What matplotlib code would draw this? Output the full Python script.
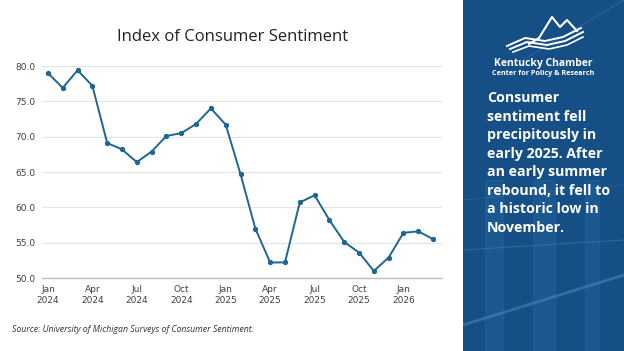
import numpy as np
import matplotlib.pyplot as plt
from matplotlib.patches import Rectangle

# monthly index, Jan 2024 .. Mar 2026
values = [79.0, 76.9, 79.4, 77.2, 69.1, 68.2, 66.4, 67.9, 70.1, 70.5, 71.8, 74.0,
          71.7, 64.7, 57.0, 52.2, 52.2, 60.7, 61.7, 58.2, 55.1, 53.6, 51.0, 52.9,
          56.4, 56.6, 55.5]
tick_pos = [0, 3, 6, 9, 12, 15, 18, 21, 24]
tick_labels = ["Jan\n2024", "Apr\n2024", "Jul\n2024", "Oct\n2024", "Jan\n2025",
               "Apr\n2025", "Jul\n2025", "Oct\n2025", "Jan\n2026"]
y_ticks = [50.0, 55.0, 60.0, 65.0, 70.0, 75.0, 80.0]

note = ("Consumer\nsentiment fell\nprecipitously in\nearly 2025. After\n"
        "an early summer\nrebound, it fell to\na historic low in\nNovember.")

W, H = 624, 351
fig = plt.figure(figsize=(W / 100, H / 100), dpi=100)
fig.patch.set_facecolor("white")

# right side panel
panel = fig.add_axes([463 / W, 0, 1 - 463 / W, 1])
panel.set_xlim(0, 161)
panel.set_ylim(351, 0)
panel.axis("off")
panel.add_patch(Rectangle((0, 0), 161, 351, color="#164f86", zorder=0))
# faint background bands / lines
for x0, w in [(22, 18), (70, 22), (122, 14)]:
    panel.add_patch(Rectangle((x0, 180), w, 171, color="#2a6aa5", alpha=0.35, zorder=1))
panel.plot([0, 161], [325, 275], color="#4f8cc4", lw=2, alpha=0.5, zorder=1)
panel.plot([0, 161], [250, 240], color="#4f8cc4", lw=0.8, alpha=0.4, zorder=1)
panel.plot([60, 161], [60, 0], color="#4f8cc4", lw=0.6, alpha=0.4, zorder=1)
panel.plot([0, 161], [200, 185], color="#4f8cc4", lw=0.6, alpha=0.3, zorder=1)

# logo
panel.plot([66, 76, 89, 97, 104, 114], [44, 38, 17, 27, 20, 31], color="white", lw=1.5,
           zorder=3)
panel.plot([44, 62, 82, 100, 118], [46, 38, 41, 37, 28], color="white", lw=1.4, zorder=3)
panel.plot([47, 64, 84, 102, 120], [49, 42, 45, 41, 32], color="white", lw=1.4, zorder=3)
panel.plot([50, 66, 86, 104, 120], [52, 46, 49, 45, 37], color="white", lw=1.2, zorder=3)
panel.text(80, 66, "Kentucky Chamber", color="white", fontsize=7.5, fontweight="bold",
           ha="center", va="baseline", family="Open Sans", zorder=4)
panel.text(80, 75, "Center for Policy & Research", color="white", fontsize=5.2,
           fontweight="bold", ha="center", va="baseline", family="Open Sans", zorder=4)

panel.text(24, 91, note, color="white", fontsize=10.2, fontweight="bold", ha="left",
           va="top", family="Open Sans", linespacing=1.41, zorder=4)

# main chart
ax = fig.add_axes([42 / W, 1 - 278 / H, 400 / W, 212 / H])
x = np.arange(len(values))
ax.plot(x, values, color="#1f6690", lw=1.4, marker="o", markersize=2.8, clip_on=False,
        zorder=3)
ax.set_xlim(-0.4, 26.6)
ax.set_ylim(50, 80)
ax.set_yticks(y_ticks)
ax.set_yticklabels([f"{v:.1f}" for v in y_ticks])
ax.set_xticks(tick_pos)
ax.set_xticklabels(tick_labels, linespacing=1.35)
ax.grid(axis="y", color="#e4e4e4", lw=0.8)
ax.set_axisbelow(True)
for s in ["top", "right", "left"]:
    ax.spines[s].set_visible(False)
ax.spines["bottom"].set_color("#bfbfbf")
ax.spines["bottom"].set_linewidth(1.0)
ax.tick_params(axis="both", length=0, labelsize=6.5, colors="#404040")
ax.tick_params(axis="x", pad=5)
ax.tick_params(axis="y", pad=5)

fig.text(233 / W, 1 - 37 / H, "Index of Consumer Sentiment", ha="center", va="center",
         fontsize=12, color="#222222", family="Open Sans")
fig.text(12 / W, 1 - 330 / H, "Source: University of Michigan Surveys of Consumer Sentiment.",
         ha="left", va="center", fontsize=6.3, style="italic", color="#333333",
         family="Open Sans")

fig.savefig("out.png", dpi=100)
